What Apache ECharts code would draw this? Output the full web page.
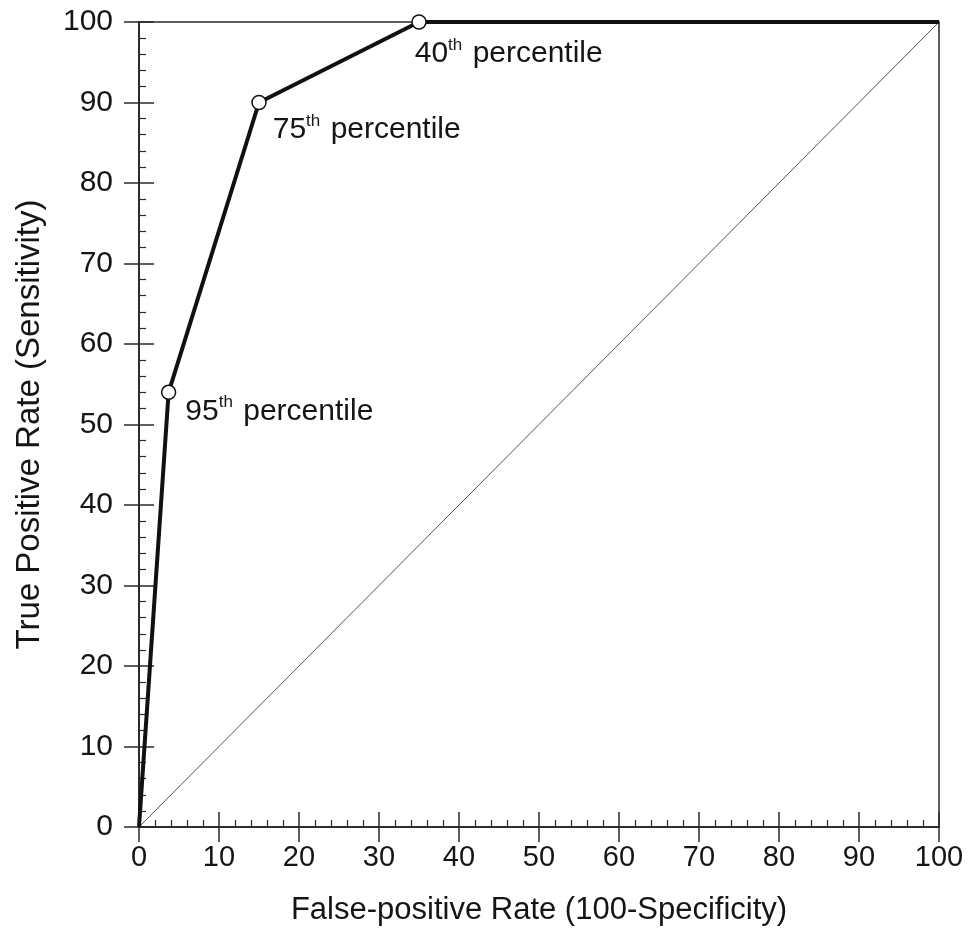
<!DOCTYPE html>
<html>
<head>
<meta charset="utf-8">
<script src="https://cdn.jsdelivr.net/npm/echarts@6/dist/echarts.min.js"></script>
<style>
  html, body { margin: 0; padding: 0; background: #fff; }
  #chart { width: 970px; height: 936px; }
</style>
</head>
<body>
<div id="chart"></div>
<script>
// ROC curve: false-positive rate vs. true-positive rate
const fpr = [0, 3.7, 15, 35, 100];
const tpr = [0, 54, 90, 100, 100];

// Cut-off points marked on the curve
const cutFpr = [3.7, 15, 35];
const cutTpr = [54, 90, 100];
const cutPercentile = ['95', '75', '40'];

// Reference (chance) line
const chanceX = [0, 100];
const chanceY = [0, 100];

const axisMin = 0, axisMax = 100, axisStep = 10;
const xTitle = 'False-positive Rate (100-Specificity)';
const yTitle = 'True Positive Rate (Sensitivity)';

const FONT = '"Liberation Sans", Arial, Helvetica, sans-serif';
const INK = '#151515';
const AXIS = '#2a2a2a';
const labelOffsets = [[4, 19], [1, 27], [-17, 32]];

const rocData = fpr.map((x, i) => [x, tpr[i]]);
const chanceData = chanceX.map((x, i) => [x, chanceY[i]]);
const cutData = cutFpr.map((x, i) => ({
  value: [x, cutTpr[i]],
  label: {
    show: true,
    position: 'right',
    align: 'left',
    offset: labelOffsets[i],
    formatter: '{n|' + cutPercentile[i] + '}{s|th}{n| percentile}'
  }
}));

function baseAxis(extra) {
  return Object.assign({
    type: 'value',
    min: axisMin,
    max: axisMax,
    interval: axisStep,
    splitLine: { show: false },
    axisLine: { show: true, onZero: false, lineStyle: { color: AXIS, width: 1.5 } }
  }, extra);
}

const majorTick = (inside) => ({
  show: true, inside: inside, length: 15, lineStyle: { color: AXIS, width: 1.5 }
});
const minorTick = { show: true, splitNumber: 5, length: 7, lineStyle: { color: AXIS, width: 1.2 } };

const chart = echarts.init(document.getElementById('chart'), null, { renderer: 'canvas' });
chart.setOption({
  animation: false,
  backgroundColor: '#fff',
  grid: {
    left: 139, right: 31, top: 22, bottom: 109,
    show: true, borderColor: AXIS, borderWidth: 1.5, backgroundColor: 'transparent'
  },
  xAxis: [
    baseAxis({
      position: 'bottom',
      axisTick: majorTick(true),
      minorTick: minorTick,
      minorSplitLine: { show: false },
      axisLabel: { fontSize: 29, color: INK, fontFamily: FONT, margin: 16 },
      name: xTitle,
      nameLocation: 'middle',
      nameGap: 68,
      nameTextStyle: { fontSize: 31, color: INK, fontFamily: FONT }
    }),
    baseAxis({
      position: 'bottom',
      axisTick: majorTick(false),
      axisLabel: { show: false }
    })
  ],
  yAxis: [
    baseAxis({
      position: 'left',
      axisTick: majorTick(true),
      minorTick: minorTick,
      minorSplitLine: { show: false },
      axisLabel: { fontSize: 30, color: INK, fontFamily: FONT, margin: 26 },
      name: yTitle,
      nameLocation: 'middle',
      nameGap: 93,
      nameTextStyle: { fontSize: 33, color: INK, fontFamily: FONT }
    }),
    baseAxis({
      position: 'left',
      axisTick: majorTick(false),
      axisLabel: { show: false }
    })
  ],
  series: [
    {
      type: 'line',
      data: chanceData,
      symbol: 'none',
      lineStyle: { color: '#555', width: 1 },
      z: 2
    },
    {
      type: 'line',
      data: rocData,
      symbol: 'none',
      lineStyle: { color: '#111', width: 4 },
      z: 3
    },
    {
      type: 'scatter',
      data: cutData,
      symbol: 'circle',
      symbolSize: 14,
      itemStyle: { color: '#fff', opacity: 1, borderColor: '#111', borderWidth: 1.5 },
      label: {
        color: INK,
        fontFamily: FONT,
        rich: {
          n: { fontSize: 30, color: INK, fontFamily: FONT },
          s: { fontSize: 17, color: INK, fontFamily: FONT, padding: [0, 2, 17, 0] }
        }
      },
      z: 4
    }
  ]
});
</script>
</body>
</html>
